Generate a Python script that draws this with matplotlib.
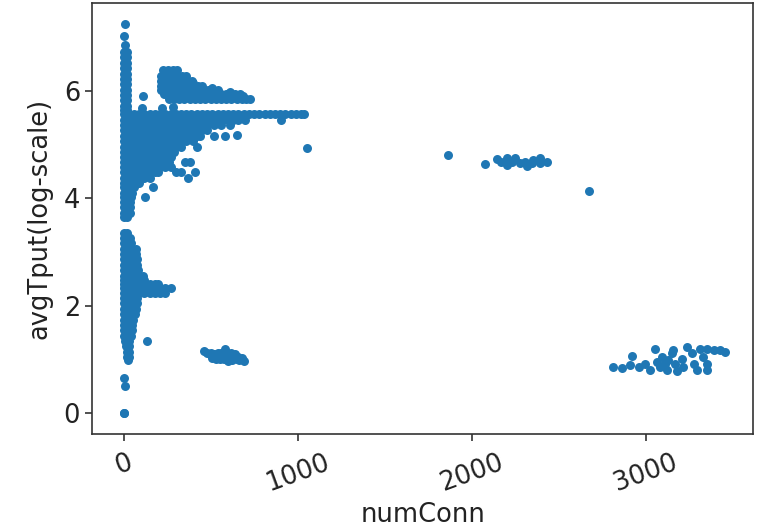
import matplotlib
matplotlib.use("Agg")
import matplotlib.pyplot as plt

# ---- data ----
# isolated points near the top of the x~0 spike
spike_top_x = [10, 5, 8]
spike_top_y = [7.25, 7.01, 6.85]

# upper part of the x~0 spike (rows: y -> x values)
spike_rows = [
    (6.72, [5, 18]), (6.62, [5, 18]), (6.52, [3, 20]), (6.42, [3, 20]),
    (6.32, [3, 22]), (6.22, [3, 22]), (6.12, [3, 22]), (6.02, [3, 22]),
    (5.92, [3, 22]), (5.82, [3, 22]), (5.72, [3, 22]), (5.64, [3, 22]),
]

# main blob around y 4.5-5.6 (rows: y -> x values)
blob_rows = [
    (5.56, [0, 30, 60, 90, 120, 150, 180, 210, 240, 270, 300, 330, 360, 390,
            420, 450, 480, 510, 540, 570, 600, 630, 660, 690, 720, 750, 780,
            810, 840, 870, 900, 930, 960, 990, 1020, 1035]),
    (5.46, [0, 30, 60, 90, 120, 150, 180, 210, 240, 270, 300, 330, 360, 390,
            420, 450, 480, 510, 540, 570, 600, 630, 660, 700, 905]),
    (5.36, [0, 30, 60, 90, 120, 150, 180, 210, 240, 270, 300, 330, 360, 390,
            420, 450, 480, 520, 560, 610]),
    (5.26, [0, 30, 60, 90, 120, 150, 180, 210, 240, 270, 300, 330, 360, 390,
            420, 450, 480]),
    (5.16, [0, 30, 60, 90, 120, 150, 180, 210, 240, 270, 300, 330, 360, 390,
            420, 440, 520, 585]),
    (5.06, [0, 30, 60, 90, 120, 150, 180, 210, 240, 270, 300, 330, 360, 400]),
    (4.96, [0, 30, 60, 90, 120, 150, 180, 210, 240, 270, 300, 330, 420]),
    (4.86, [0, 30, 60, 90, 120, 150, 180, 210, 240, 270, 290]),
    (4.76, [0, 30, 60, 90, 120, 150, 180, 210, 240, 270]),
    (4.68, [0, 30, 60, 90, 120, 150, 180, 210, 240, 260, 353, 382]),
    (4.58, [0, 30, 60, 90, 120, 150, 180, 210, 240, 270]),
    (4.48, [0, 30, 60, 90, 120, 150, 180, 200, 300, 330, 411]),
    (4.38, [0, 30, 60, 90, 120, 150, 372]),
    (4.28, [0, 30, 60, 90]),
    (4.20, [0, 30, 60, 171]),
    (4.10, [0, 25, 50]),
    (4.03, [0, 20, 40, 124]),
    (3.93, [0, 20, 35]),
    (3.83, [0, 20, 35]),
    (3.73, [0, 20, 37]),
    (3.65, [5, 20]),
]
blob_extra_x = [650, 1055, 114, 104, 220, 286]
blob_extra_y = [5.17, 4.93, 5.90, 5.67, 5.67, 5.70]

# upper cluster around y ~6 (rows: y -> x values)
upper_rows = [
    (6.38, [225, 255, 285, 310]),
    (6.28, [215, 245, 275, 305, 335, 360]),
    (6.18, [215, 245, 275, 305, 335, 365, 395]),
    (6.09, [215, 245, 275, 305, 335, 365, 395, 425, 450]),
    (6.01, [215, 245, 275, 305, 335, 365, 395, 425, 455, 485, 510, 540]),
    (5.93, [230, 260, 290, 320, 350, 380, 410, 440, 470, 500, 530, 560,
            590, 615, 640, 670]),
    (5.85, [260, 290, 320, 350, 380, 410, 440, 470, 500, 530, 560, 590,
            620, 650, 680, 705, 725]),
]
upper_extra_x = [401, 507, 612, 687]
upper_extra_y = [6.15, 6.05, 5.98, 5.90]

# lower spike around y 1-3.4 (rows: y -> x values)
lower_rows = [
    (3.36, [5, 20]), (3.26, [5, 20, 35]), (3.16, [5, 20, 45]),
    (3.06, [5, 25, 50, 70]), (2.96, [5, 30, 55, 70]), (2.86, [5, 30, 55, 75]),
    (2.76, [5, 30, 55, 80]), (2.66, [5, 30, 55, 85]),
    (2.56, [5, 30, 60, 90, 110]), (2.48, [5, 30, 60, 90, 120]),
    (2.40, [5, 30, 60, 90, 120, 150, 180, 200]),
    (2.32, [5, 30, 60, 90, 120, 150, 180, 210, 240, 270]),
    (2.24, [5, 30, 60, 90, 120, 150, 180, 210, 240]),
    (2.14, [5, 30, 60, 80]), (2.04, [5, 30, 60, 75]), (1.94, [5, 30, 55, 70]),
    (1.84, [5, 30, 55, 65]), (1.74, [5, 30, 55]), (1.64, [5, 30, 50]),
    (1.54, [5, 30, 50]), (1.44, [5, 25, 40]), (1.34, [10, 30, 133]),
    (1.24, [15, 30]), (1.14, [20, 30]), (1.05, [20, 30]), (0.99, [28]),
]
low_iso_x = [0, 8, 0, 3]
low_iso_y = [0.66, 0.50, 0.0, 0.0]

# cluster x ~450-700, y ~1
mid_low_x = [460, 480, 500, 520, 540, 555, 570, 585, 590, 600, 615, 625,
             640, 650, 665, 680, 690, 600, 530, 560, 510, 645, 575, 620,
             660, 545, 505]
mid_low_y = [1.15, 1.12, 1.08, 1.10, 1.05, 1.00, 1.08, 1.20, 1.10, 1.02,
             1.05, 0.98, 1.10, 1.00, 0.98, 1.02, 0.97, 0.97, 1.00, 1.12,
             1.02, 1.05, 1.00, 1.12, 1.05, 1.12, 1.12]

# cluster x ~1850-2700, y ~4.7
mid_high_x = [1865, 2078, 2148, 2202, 2250, 2307, 2355, 2394, 2432, 2202,
              2317, 2394, 2167, 2279, 2231, 2346, 2675]
mid_high_y = [4.80, 4.63, 4.72, 4.74, 4.74, 4.68, 4.71, 4.74, 4.68, 4.61,
              4.60, 4.65, 4.68, 4.65, 4.68, 4.65, 4.13]

# cluster x ~2800-3460, y ~1
right_x = [2815, 2863, 2921, 2911, 2959, 2997, 3026, 3055, 3064, 3093,
           3112, 3122, 3150, 3160, 3170, 3179, 3208, 3217, 3237, 3265,
           3275, 3294, 3313, 3332, 3352, 3352, 3352, 3390, 3428, 3457,
           3131, 3083]
right_y = [0.85, 0.83, 1.06, 0.89, 0.85, 0.92, 0.81, 1.20, 0.95, 1.05,
           0.92, 0.80, 1.11, 1.18, 0.92, 0.79, 1.00, 0.85, 1.23, 1.11,
           0.92, 0.80, 1.20, 1.05, 1.20, 0.92, 0.80, 1.17, 1.17, 1.13,
           0.99, 0.86]

x_ticks = [0, 1000, 2000, 3000]
y_ticks = [0, 2, 4, 6]

# ---- assemble ----
xs, ys = [], []
def add_rows(rows):
    for yv, xl in rows:
        for xv in xl:
            xs.append(xv)
            ys.append(yv)
def add_pts(xl, yl):
    xs.extend(xl)
    ys.extend(yl)

add_pts(spike_top_x, spike_top_y)
add_rows(spike_rows)
add_rows(blob_rows)
add_pts(blob_extra_x, blob_extra_y)
add_rows(upper_rows)
add_pts(upper_extra_x, upper_extra_y)
add_rows(lower_rows)
add_pts(low_iso_x, low_iso_y)
add_pts(mid_low_x, mid_low_y)
add_pts(mid_high_x, mid_high_y)
add_pts(right_x, right_y)

plt.rcParams['font.family'] = ['DejaVu Sans']
fig = plt.figure(figsize=(7.67, 5.28), dpi=100)
ax = fig.add_axes([0.12, 0.178, 0.862, 0.816])
ax.scatter(xs, ys, s=42, color='#1f77b4', linewidths=0)

ax.set_xlim(-181, 3618)
ax.set_ylim(-0.39, 7.63)
ax.set_xticks(x_ticks)
ax.set_yticks(y_ticks)
ax.tick_params(labelsize=18.5, length=5, width=1.1, colors='#222222')
ax.tick_params(axis='x', pad=6)
for lbl in ax.get_xticklabels():
    lbl.set_rotation(20)
ax.set_xlabel('numConn', fontsize=18.5, color='#222222', labelpad=4)
ax.set_ylabel('avgTput(log-scale)', fontsize=18.5, color='#222222', labelpad=8)
for sp in ax.spines.values():
    sp.set_linewidth(1.2)
    sp.set_color('#333333')

fig.savefig('out.png', dpi=100)
